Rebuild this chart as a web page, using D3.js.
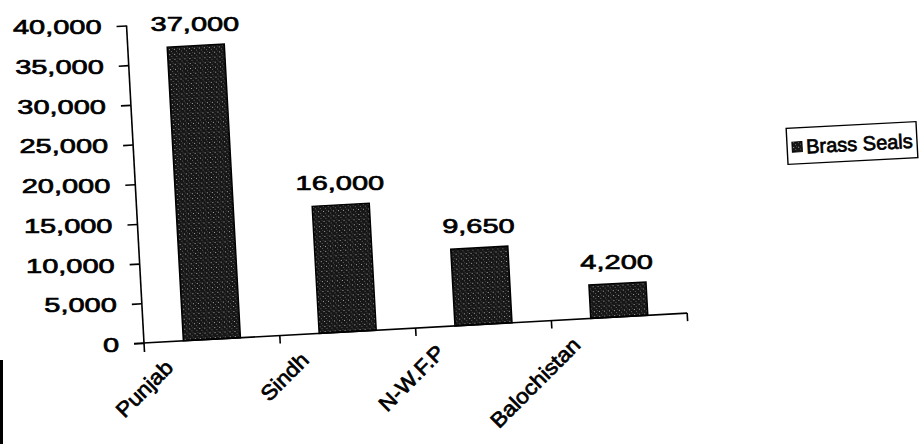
<!DOCTYPE html>
<html>
<head>
<meta charset="utf-8">
<script src="https://cdn.jsdelivr.net/npm/d3@7"></script>
<style>
  html, body { margin: 0; padding: 0; background: #fff; }
  svg { display: block; font-family: "Liberation Sans", Arial, sans-serif; }
  svg text { stroke: #000; stroke-width: 0.7px; fill: #000; }
</style>
</head>
<body>
<svg id="chart" width="919" height="444"></svg>
<script>
// ---- data ----
const categories = ["Punjab", "Sindh", "N-W.F.P", "Balochistan"];
const brassSeals = [37000, 16000, 9650, 4200];
const yTicks = [0, 5000, 10000, 15000, 20000, 25000, 30000, 35000, 40000];
const seriesName = "Brass Seals";

// ---- layout ----
const W = 919, H = 444;
const origin = { x: 144, y: 343 };
const plotW = 544, plotH = 318;
const tilt = 3.15;          // scanned page is slightly tilted
const numScale = 1.38;      // wide digits in the original

const svg = d3.select("#chart");
svg.append("rect").attr("width", W).attr("height", H).attr("fill", "#fff");

// texture for bars
const defs = svg.append("defs");
const pat = defs.append("pattern").attr("id", "speck").attr("patternUnits", "userSpaceOnUse")
  .attr("width", 5).attr("height", 5);
pat.append("rect").attr("width", 5).attr("height", 5).attr("fill", "#161616");
pat.append("rect").attr("x", 1).attr("y", 1).attr("width", 1).attr("height", 1).attr("fill", "#a8a8a8");
pat.append("rect").attr("x", 3).attr("y", 3).attr("width", 1).attr("height", 1).attr("fill", "#666");
pat.append("rect").attr("x", 4).attr("y", 0).attr("width", 1).attr("height", 1).attr("fill", "#444");

const g = svg.append("g")
  .attr("transform", `translate(${origin.x},${origin.y}) rotate(${-tilt}) translate(0,${-plotH})`);

const x = d3.scaleBand().domain(categories).range([0, plotW]).paddingInner(0.58).paddingOuter(0.29);
const y = d3.scaleLinear().domain([0, 40000]).range([plotH, 0]);

// bars
g.selectAll("rect.bar").data(categories).join("rect")
  .attr("class", "bar")
  .attr("x", d => x(d))
  .attr("y", (d, i) => y(brassSeals[i]))
  .attr("width", x.bandwidth())
  .attr("height", (d, i) => plotH - y(brassSeals[i]))
  .attr("fill", "url(#speck)")
  .attr("stroke", "#000").attr("stroke-width", 1.5);

// y axis
const yAxis = g.append("g").call(
  d3.axisLeft(y).tickValues(yTicks).tickSize(10).tickPadding(0).tickFormat(() => "")
);
yAxis.select(".domain").attr("stroke", "#000").attr("stroke-width", 1.6)
  .attr("d", `M0,0V${plotH + 9}`);
yAxis.selectAll(".tick line").attr("stroke", "#000").attr("stroke-width", 1.6);

const fmt = d3.format(",");
g.append("g").selectAll("text").data(yTicks).join("text")
  .attr("transform", d => `translate(-25,${y(d)}) rotate(${tilt}) scale(${numScale},1)`)
  .attr("text-anchor", "end").attr("dy", "0.36em")
  .attr("font-size", 21)
  .text(d => fmt(d));

// x axis (category boundaries as ticks)
const xAxisG = g.append("g").attr("transform", `translate(0,${plotH})`);
xAxisG.append("line").attr("x1", -10).attr("x2", plotW).attr("stroke", "#000").attr("stroke-width", 1.6);
const bounds = categories.map(c => x(c) + x.bandwidth() + x.step() * x.paddingInner() / 2);
xAxisG.selectAll("line.tk").data(bounds).join("line")
  .attr("class", "tk")
  .attr("x1", d => d).attr("x2", d => d).attr("y1", 0).attr("y2", 8)
  .attr("stroke", "#000").attr("stroke-width", 1.6);

// category labels
g.append("g").selectAll("text").data(categories).join("text")
  .attr("transform", d => `translate(${x(d) + x.bandwidth() / 2 - 44},${plotH + 22}) rotate(${-45 + tilt}) scale(1.08,1)`)
  .attr("text-anchor", "end").attr("dy", "0.35em")
  .attr("font-size", 21)
  .text(d => d);

// value labels
g.append("g").selectAll("text").data(categories).join("text")
  .attr("transform", (d, i) => `translate(${x(d) + x.bandwidth() / 2},${y(brassSeals[i]) - 15}) rotate(${tilt}) scale(${numScale},1)`)
  .attr("text-anchor", "middle")
  .attr("font-size", 21)
  .text((d, i) => fmt(brassSeals[i]));

// legend
const lg = svg.append("g").attr("transform", "translate(852,143) rotate(-3)");
lg.append("rect").attr("x", -65).attr("y", -18).attr("width", 130).attr("height", 36)
  .attr("fill", "#fff").attr("stroke", "#000").attr("stroke-width", 1.4);
lg.append("rect").attr("x", -60).attr("y", -4).attr("width", 10).attr("height", 10)
  .attr("fill", "url(#speck)").attr("stroke", "#000").attr("stroke-width", 1);
lg.append("text").attr("x", -46).attr("y", 8).attr("font-size", 20)
  .text(seriesName);

// scan edge artifact at bottom-left
svg.append("line").attr("x1", 1.5).attr("x2", 1.5).attr("y1", 360).attr("y2", 444)
  .attr("stroke", "#000").attr("stroke-width", 3);
</script>
</body>
</html>
